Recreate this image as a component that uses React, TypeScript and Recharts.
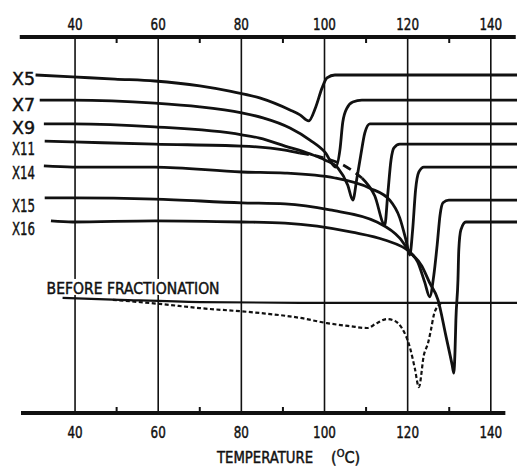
import { ComposedChart, Line, XAxis, YAxis, ReferenceLine } from 'recharts';

type Pt = [number, number]; // [temperature in °C, trace level]

const T_MIN = 27;
const T_MAX = 146.3;
const GRID_TEMPS = [40, 60, 80, 100, 120, 140];
const AXIS_TICKS = [40, 50, 60, 70, 80, 90, 100, 110, 120, 130, 140];

// DSC traces of the fractions
// (vertical units are arbitrary: 0 = bottom axis, 100 = top axis)
const X5: Pt[] = [
  [30.5, 89.9], [39.4, 89.4], [49.6, 88.8], [59.2, 88.3], [70.0, 87.0], [77.2, 85.6],
  [84.4, 83.8], [91.7, 80.6], [94.1, 79.3], [96.2, 77.7], [97.9, 81.4], [99.4, 86.4],
  [100.6, 89.1], [102.5, 89.9], [106.1, 89.9], [146.3, 89.9],
];
const X7: Pt[] = [
  [31.5, 83.2], [39.4, 83.2], [59.2, 82.4], [70.0, 81.4], [80.1, 79.8], [85.2, 78.5],
  [91.7, 75.8], [96.5, 72.6], [100.1, 69.4], [102.7, 65.4], [103.7, 69.9], [104.4, 77.4],
  [105.4, 81.1], [106.8, 82.7], [109.0, 83.2], [146.3, 83.2],
];
const X9: Pt[] = [
  [32.5, 76.9], [39.4, 76.9], [59.2, 76.1], [80.1, 74.0], [84.4, 73.1], [90.5, 71.0],
  [96.5, 68.9], [100.1, 67.3], [103.2, 65.2], [105.6, 60.6], [106.8, 56.6], [107.8, 62.5],
  [108.7, 68.4], [109.7, 74.5], [110.9, 76.9], [146.3, 76.9],
];
// X11 is drawn dashed where it runs through the crowded part
const X11_START: Pt[] = [
  [32.7, 72.3], [39.4, 72.1], [59.2, 71.5], [80.1, 71.0], [90.5, 69.9], [94.1, 69.1],
];
const X11_DASHED: Pt[] = [[94.1, 69.1], [98.9, 68.1], [104.9, 65.7], [109.0, 62.5]];
const X11_END: Pt[] = [
  [109.0, 62.5], [112.1, 57.7], [114.5, 50.0], [115.2, 58.0], [116.0, 67.3], [116.7, 70.5],
  [118.1, 71.5], [146.3, 71.5],
];
const X14: Pt[] = [
  [32.5, 65.7], [39.4, 65.4], [59.2, 65.4], [80.1, 64.1], [90.5, 63.8], [102.5, 62.5],
  [110.9, 59.8], [115.7, 56.6], [118.1, 51.9], [119.6, 46.0], [120.5, 42.0], [121.2, 48.7],
  [121.9, 59.3], [122.7, 64.1], [123.9, 65.4], [146.3, 65.4],
];
const X15: Pt[] = [
  [32.7, 57.2], [39.4, 57.2], [59.2, 56.9], [80.1, 55.9], [90.5, 55.6], [101.3, 54.0],
  [112.6, 50.8], [118.1, 46.5], [120.5, 42.8], [122.4, 40.2], [124.1, 34.8], [125.3, 30.9],
  [126.3, 36.7], [127.1, 44.7], [127.8, 52.7], [128.5, 55.9], [129.9, 56.6], [146.3, 56.6],
];
const X16: Pt[] = [
  [34.2, 51.1], [39.4, 50.8], [59.2, 51.1], [80.1, 50.8], [90.5, 50.5], [106.6, 48.1],
  [114.5, 46.0], [120.5, 42.8], [123.4, 39.1], [125.3, 34.6], [127.3, 30.1], [129.2, 20.5],
  [130.7, 12.8], [131.1, 10.6], [131.4, 16.8], [131.6, 24.7], [132.1, 35.4], [132.3, 43.4],
  [132.8, 48.7], [134.0, 50.8], [146.3, 50.8],
];
const BEFORE_BASELINE: Pt[] = [[37.0, 30.6], [50.8, 30.1], [70.0, 29.5], [94.1, 29.3], [146.3, 29.3]];
const BEFORE_TRACE: Pt[] = [
  [49.1, 30.1], [60.4, 29.0], [70.0, 27.9], [84.4, 26.6], [94.1, 25.3], [100.6, 23.9],
  [106.1, 23.1], [110.2, 22.6], [112.6, 23.9], [115.0, 25.0], [116.9, 24.5], [118.6, 22.6],
  [120.5, 17.6], [121.7, 12.0], [122.7, 6.9], [123.9, 15.4], [124.9, 18.6], [125.6, 22.1],
  [126.3, 26.1], [127.3, 28.5], [128.3, 29.3],
];

const W = 518;
const H = 467;
const INK = '#111';
const FONT = '"DejaVu Sans Condensed", "DejaVu Sans", sans-serif';
// the scanned lettering is narrow and heavy
const txt = { fontFamily: FONT, fill: INK, stroke: INK, strokeWidth: 0.45, lengthAdjust: 'spacingAndGlyphs' as const };

const pts = (a: Pt[]) => a.map(([t, v]) => ({ t, v }));

const posOf = (p: any) => ({
  x: p.viewBox?.x ?? p.x,
  y: p.viewBox?.y ?? p.y,
});

const nameLabel = (name: string, dy: number) => (p: any) => {
  if (p.index !== 0) return null;
  const { y } = posOf(p);
  return (
    <text x={12} y={y + dy} fontSize={18} textLength={23} {...txt}>
      {name}
    </text>
  );
};

const beforeLabel = (p: any) => {
  if (p.index !== 0) return null;
  const { x, y } = posOf(p);
  return (
    <g>
      <rect x={x - 18} y={y - 19} width={178} height={16} fill="#fff" />
      <text x={x - 16} y={y - 4} fontSize={16.5} textLength={173} {...txt}>
        BEFORE FRACTIONATION
      </text>
    </g>
  );
};

const tickText = (x: number, y: number, v: number) => (
  <text x={x} y={y} textAnchor="middle" fontSize={16.5} textLength={String(v).length * 7.6} {...txt}>
    {v}
  </text>
);

const TopTick = (p: any) => {
  const { x, y, payload } = p;
  if (payload.value % 20 === 0) return tickText(x, y - 7, payload.value);
  return <line x1={x} x2={x} y1={y} y2={y + 6} stroke={INK} strokeWidth={2} />;
};

const BottomTick = (p: any) => {
  const { x, y, payload } = p;
  if (payload.value % 20 === 0) return tickText(x, y + 25, payload.value);
  return <line x1={x} x2={x} y1={y - 6} y2={y} stroke={INK} strokeWidth={2} />;
};

const axisTitle = () => (
  <g>
    <text x={217} y={463} fontSize={16} textLength={96} {...txt}>
      TEMPERATURE
    </text>
    <text x={331} y={463} fontSize={16} {...txt}>
      (<tspan dy={-6} fontSize={11}>O</tspan>
      <tspan dy={6}>C)</tspan>
    </text>
  </g>
);

const solid = { type: 'monotone' as const, dataKey: 'v', stroke: INK, strokeWidth: 2.8, dot: false, isAnimationActive: false };

export default function App() {
  return (
    <div style={{ position: 'absolute', left: 0, top: 0, width: W, height: H, background: '#fff' }}>
      <ComposedChart width={W} height={H} margin={{ top: 36, right: 1, bottom: 53, left: 21 }}>
        <XAxis
          type="number"
          dataKey="t"
          domain={[T_MIN, T_MAX]}
          allowDataOverflow
          ticks={AXIS_TICKS}
          interval={0}
          tickSize={0}
          tickMargin={0}
          axisLine={false}
          tickLine={false}
          tick={<BottomTick />}
          height={1}
          label={{ content: axisTitle }}
        />
        <XAxis
          xAxisId="top"
          orientation="top"
          type="number"
          dataKey="t"
          domain={[T_MIN, T_MAX]}
          allowDataOverflow
          ticks={AXIS_TICKS}
          interval={0}
          tickSize={0}
          tickMargin={0}
          axisLine={false}
          tickLine={false}
          tick={<TopTick />}
          height={1}
        />
        <YAxis type="number" domain={[0, 100]} hide />

        {GRID_TEMPS.map((t) => (
          <ReferenceLine key={t} x={t} stroke={INK} strokeWidth={1.6} />
        ))}
        <ReferenceLine
          segment={[{ x: 26.7, y: 100 }, { x: 146.0, y: 100 }]}
          stroke={INK}
          strokeWidth={4}
          ifOverflow="visible"
        />
        <ReferenceLine
          segment={[{ x: 27, y: 0 }, { x: 143.5, y: 0 }]}
          stroke={INK}
          strokeWidth={4}
          ifOverflow="visible"
        />

        <Line {...solid} name="X5" data={pts(X5)} label={nameLabel('X5', 10)} />
        <Line {...solid} name="X7" data={pts(X7)} label={nameLabel('X7', 11)} />
        <Line {...solid} name="X9" data={pts(X9)} label={nameLabel('X9', 10)} />
        <Line {...solid} name="X11" data={pts(X11_START)} label={nameLabel('X11', 14)} />
        <Line {...solid} name="X11 dashed" data={pts(X11_DASHED)} strokeDasharray="9 6" />
        <Line {...solid} name="X11 end" data={pts(X11_END)} />
        <Line {...solid} name="X14" data={pts(X14)} label={nameLabel('X14', 13)} />
        <Line {...solid} name="X15" data={pts(X15)} label={nameLabel('X15', 14)} />
        <Line {...solid} name="X16" data={pts(X16)} label={nameLabel('X16', 14)} />
        <Line {...solid} name="Before fractionation" data={pts(BEFORE_BASELINE)} strokeWidth={2.2} label={beforeLabel} />
        <Line
          {...solid}
          name="Before fractionation trace"
          data={pts(BEFORE_TRACE)}
          strokeWidth={2.2}
          strokeDasharray="4 2.5"
        />
      </ComposedChart>
    </div>
  );
}
